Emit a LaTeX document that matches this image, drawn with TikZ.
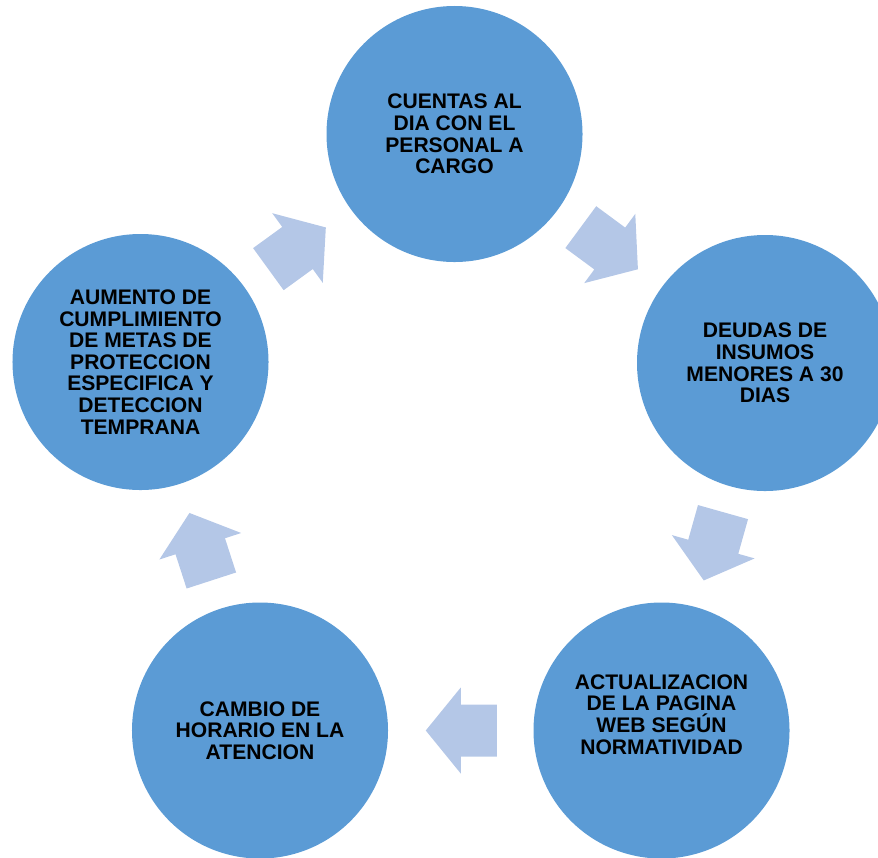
\documentclass[tikz,border=0pt]{standalone}
\usepackage{fontspec}
\setmainfont{Liberation Sans}
\definecolor{circfill}{HTML}{5B9BD5}
\definecolor{arrowfill}{HTML}{B4C7E7}

\tikzset{
	circ/.style={circle, fill=circfill, minimum size=7.68cm, inner sep=0pt},
	txt/.style={align=center, font=\bfseries\fontsize{18}{18.4}\selectfont},
	blockarrow/.pic={
		\fill[arrowfill] (-36,-26) -- (0,-26) -- (0,-43) -- (35,0) -- (0,43) -- (0,26) -- (-36,26) -- cycle;
	}
}

\begin{document}
\begin{tikzpicture}[x=0.03cm,y=-0.03cm]
		\useasboundingbox (0,0) rectangle (878,857);
		\clip (0,0) rectangle (878,857);
		
		% circles of the cycle
		\node[circ] (cuentas) at (454.5,134) {};
		\node[txt] (cuentastxt) at (cuentas.center) {CUENTAS AL\\DIA CON EL\\PERSONAL A\\CARGO};
		
		\node[circ] (deudas) at (765,363) {};
		\node[txt] (deudastxt) at (deudas.center) {DEUDAS DE\\INSUMOS\\MENORES A 30\\DIAS};
		
		\node[circ] (pagina) at (661.5,730.5) {};
		\node[txt] (paginatxt) at ([yshift=0.48cm]pagina.center) {ACTUALIZACION\\DE LA PAGINA\\WEB SEGÚN\\NORMATIVIDAD};
		
		\node[circ] (horario) at (260,730.5) {};
		\node[txt] (horariotxt) at (horario.center) {CAMBIO DE\\HORARIO EN LA\\ATENCION};
		
		\node[circ] (metas) at (140.5,362) {};
		\node[txt] (metastxt) at (metas.center) {AUMENTO DE\\CUMPLIMIENTO\\DE METAS DE\\PROTECCION\\ESPECIFICA Y\\DETECCION\\TEMPRANA};
		
		% arrows between the circles
		\path (metas.center) -- pic[pos=0.5, sloped, allow upside down] {blockarrow} (cuentas.center);
		\path (cuentas.center) -- pic[pos=0.5, sloped, allow upside down] {blockarrow} (deudas.center);
		\path (deudas.center) -- pic[pos=0.5, sloped, allow upside down] {blockarrow} (pagina.center);
		\path (pagina.center) -- pic[pos=0.5, sloped, allow upside down] {blockarrow} (horario.center);
		\path (horario.center) -- pic[pos=0.5, sloped, allow upside down] {blockarrow} (metas.center);
	
	\end{tikzpicture}
\end{document}
